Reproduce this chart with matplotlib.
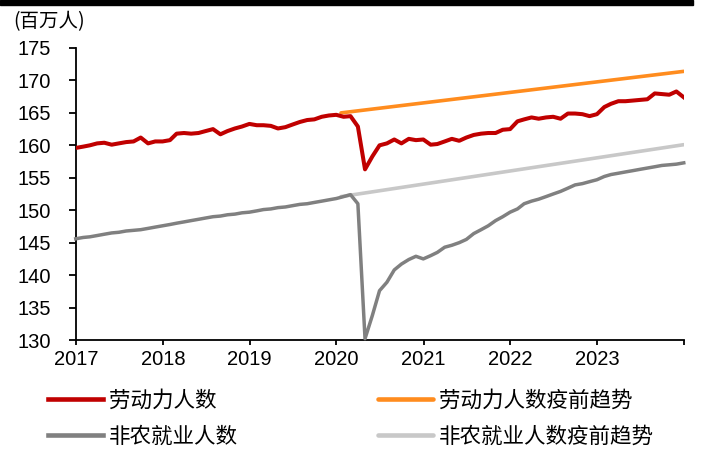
import matplotlib
matplotlib.use("Agg")
import matplotlib.pyplot as plt
import pandas as pd
from matplotlib.patches import Rectangle

# ---------------- data (monthly, Dec-2016 .. Dec-2023, month-end) ----------------
dates = pd.date_range("2016-12-31", "2023-12-31", freq="ME")

labor_force = [
    159.6, 159.8, 160.0, 160.3, 160.4, 160.1, 160.3, 160.5, 160.6, 161.2, 160.3, 160.6,
    160.6, 160.8, 161.8, 161.9, 161.8, 161.9, 162.2, 162.5, 161.7, 162.2, 162.6, 162.9,
    163.3, 163.1, 163.1, 163.0, 162.6, 162.8, 163.2, 163.6, 163.9, 164.0, 164.4, 164.6,
    164.7, 164.4, 164.5, 162.9, 156.3, 158.3, 160.0, 160.3, 160.9, 160.3, 161.0, 160.8,
    160.9, 160.1, 160.2, 160.6, 161.0, 160.7, 161.2, 161.6, 161.8, 161.9, 161.9, 162.4,
    162.5, 163.7, 164.0, 164.3, 164.1, 164.3, 164.4, 164.1, 164.9, 164.9, 164.8, 164.5,
    164.8, 165.9, 166.4, 166.8, 166.8, 166.9, 167.0, 167.1, 168.0, 167.9, 167.8, 168.3,
    167.4,
]

nonfarm = [
    145.6, 145.8, 145.9, 146.1, 146.3, 146.5, 146.6, 146.8, 146.9, 147.0, 147.2, 147.4,
    147.6, 147.8, 148.0, 148.2, 148.4, 148.6, 148.8, 149.0, 149.1, 149.3, 149.4, 149.6,
    149.7, 149.9, 150.1, 150.2, 150.4, 150.5, 150.7, 150.9, 151.0, 151.2, 151.4, 151.6,
    151.8, 152.1, 152.4, 151.0, 130.2, 133.8, 137.6, 138.9, 140.8, 141.7, 142.4, 142.9,
    142.5, 143.0, 143.5, 144.3, 144.6, 145.0, 145.5, 146.4, 147.0, 147.6, 148.4, 149.0,
    149.7, 150.2, 151.0, 151.4, 151.7, 152.1, 152.5, 152.9, 153.4, 153.9, 154.1, 154.4,
    154.7, 155.2, 155.5, 155.7, 155.9, 156.1, 156.3, 156.5, 156.7, 156.9, 157.0, 157.1,
    157.3,
]

trend_dates = pd.to_datetime(["2020-01-20", "2023-12-31"])
labor_trend = [165.0, 171.4]
nonfarm_trend = [152.1, 160.1]

series_names = ["劳动力人数", "劳动力人数疫前趋势", "非农就业人数", "非农就业人数疫前趋势"]
year_ticks = [2017, 2018, 2019, 2020, 2021, 2022, 2023, 2024]
year_labels = ["2017", "2018", "2019", "2020", "2021", "2022", "2023", ""]
y_ticks = [130, 135, 140, 145, 150, 155, 160, 165, 170, 175]
unit_label = "(百万人)"

# ---------------- styling ----------------
plt.rcParams["font.family"] = ["Liberation Sans", "DejaVu Sans"]
CJK = ["Noto Sans CJK SC", "DejaVu Sans"]

W, H = 703, 455
fig = plt.figure(figsize=(W / 100, H / 100), dpi=100)
ax = fig.add_axes([76 / W, 1 - 340 / H, (684 - 76) / W, (340 - 48) / H])

c_red = "#C00000"
c_orange = "#FF8C1E"
c_gray = "#808080"
c_lgray = "#C8C8C8"

l_orange, = ax.plot(trend_dates, labor_trend, color=c_orange, lw=2.6,
                    solid_capstyle="round", zorder=2)
l_lgray, = ax.plot(trend_dates, nonfarm_trend, color=c_lgray, lw=2.6,
                   solid_capstyle="round", zorder=2)
l_gray, = ax.plot(dates, nonfarm, color=c_gray, lw=2.5, solid_joinstyle="round",
                  zorder=3, clip_on=False)
l_red, = ax.plot(dates, labor_force, color=c_red, lw=2.9, solid_joinstyle="round",
                 zorder=4)

ax.set_xlim(pd.Timestamp("2017-01-01"), pd.Timestamp("2024-01-01"))
ax.set_ylim(130, 175)
ax.set_yticks(y_ticks)
ax.set_xticks([pd.Timestamp(f"{y}-01-01") for y in year_ticks])
ax.set_xticklabels(year_labels)

for s in ["top", "right"]:
    ax.spines[s].set_visible(False)
for s in ["left", "bottom"]:
    ax.spines[s].set_linewidth(1.3)
    ax.spines[s].set_color("black")

ax.tick_params(axis="y", direction="out", length=5, width=1.3, pad=13,
               labelsize=14.5, colors="black")
ax.tick_params(axis="x", direction="out", length=3.5, width=1.3, pad=4,
               labelsize=14.5, colors="black")

# top black bar
fig.patches.append(Rectangle((0, 1 - 5 / H), 693 / W, 5 / H, transform=fig.transFigure,
                             color="black", zorder=10))

fig.text(13 / W, 1 - 22 / H, unit_label, family=CJK, fontsize=14,
         va="center", ha="left")

leg = fig.legend([l_red, l_gray, l_orange, l_lgray],
                 [series_names[0], series_names[2], series_names[1], series_names[3]],
                 ncol=2, loc="upper left", bbox_to_anchor=(48 / W, 1 - 390 / H),
                 frameon=False, borderpad=0, borderaxespad=0,
                 handlelength=2.55, handletextpad=0.28, columnspacing=6.5,
                 labelspacing=0.62, prop={"family": CJK, "size": 15.5})
for h in leg.legend_handles:
    h.set_linewidth(3.3)

fig.savefig("out.png", dpi=100)
